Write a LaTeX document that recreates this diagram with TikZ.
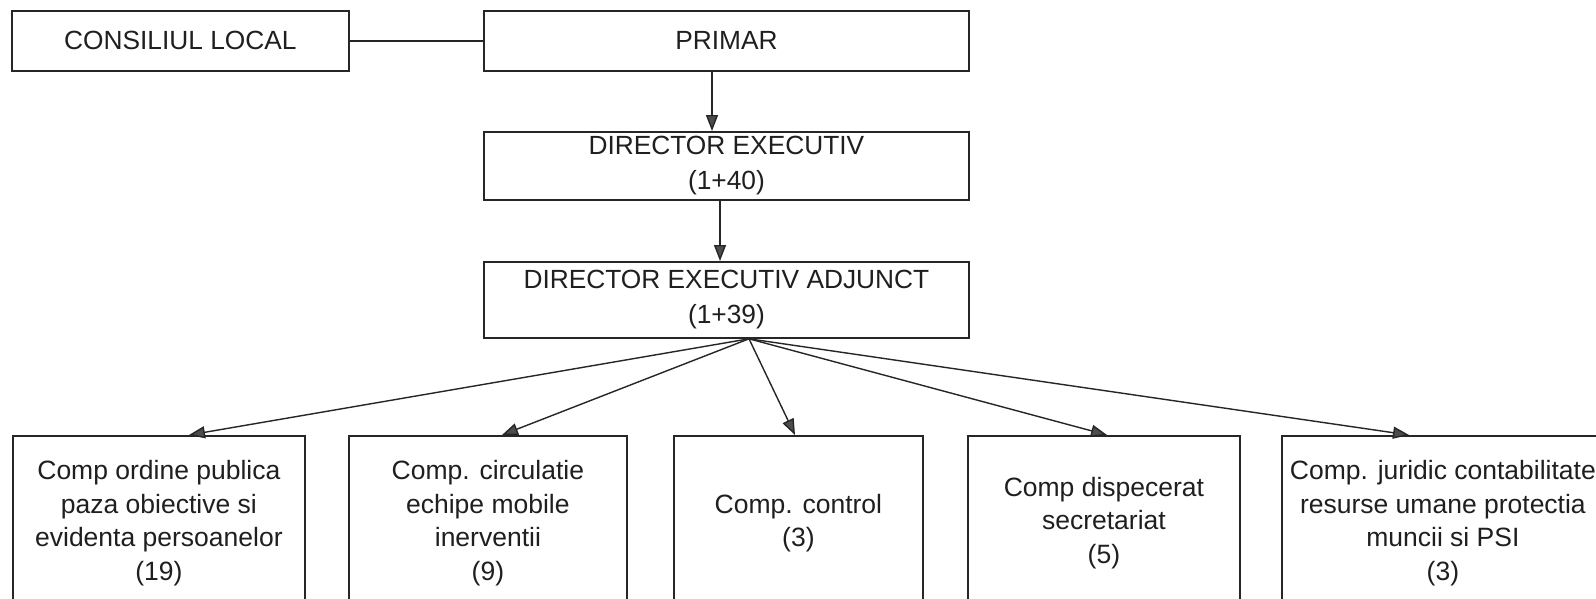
\documentclass[tikz,border=0pt]{standalone}
\usepackage{fontspec}
\setmainfont{Liberation Sans}
\usetikzlibrary{arrows.meta}
\begin{document}
\begin{tikzpicture}[x=1pt,y=-1pt,
  box/.style={draw=black!85, line width=1.8pt, rectangle, inner sep=0pt, align=center, text=black!88, anchor=north west},
  topfont/.style={font=\fontsize{26.3}{35}\selectfont},
  botfont/.style={font=\fontsize{26.5}{33.5}\selectfont},
  conn/.style={draw=black!85, line width=1.4pt},
  arr/.style={conn, -{Triangle[length=16pt,width=12pt,fill=black!70]}}]
\clip (0,0) rectangle (1596,598);
\fill[white] (0,0) rectangle (1596,598);
% top boxes
\node[box, topfont, minimum width=337pt, minimum height=60pt] (cl) at (11,10) {CONSILIUL LOCAL};
\node[box, topfont, minimum width=485pt, minimum height=60pt] (pr) at (483,10) {PRIMAR};
\node[box, topfont, minimum width=485pt, minimum height=68pt] (de) at (483,131) {DIRECTOR EXECUTIV\\(1+40)};
\node[box, topfont, minimum width=485pt, minimum height=76pt] (da) at (483,261) {DIRECTOR EXECUTIV ADJUNCT\\(1+39)};
% bottom boxes
\node[box, botfont, minimum width=292pt, minimum height=174pt] (b1) at (12,435) {Comp ordine publica\\paza obiective si\\evidenta persoanelor\\(19)};
\node[box, botfont, minimum width=278pt, minimum height=174pt] (b2) at (348,435) {Comp. circulatie\\echipe mobile\\inerventii\\(9)};
\node[box, botfont, minimum width=249pt, minimum height=174pt] (b3) at (673,435) {Comp. control\\(3)};
\node[box, botfont, minimum width=272pt, minimum height=174pt] (b4) at (967,435) {Comp dispecerat\\secretariat\\(5)};
\node[box, botfont, minimum width=322pt, minimum height=174pt] (b5) at (1281,435) {Comp. juridic contabilitate\\resurse umane protectia\\muncii si PSI\\(3)};
% helper coordinates
\coordinate (a1) at (712,100);
\coordinate (a2) at (720,230);
\coordinate (src) at (749,300);
\coordinate (t1) at (189,400);
\coordinate (t2) at (502,400);
\coordinate (t3) at (795,400);
\coordinate (t4) at (1107,400);
\coordinate (t5) at (1409,400);
% connectors
\draw[conn] (cl.east) -- (pr.west);
\draw[arr] (a1 |- pr.south) -- (a1 |- de.north);
\draw[arr] (a2 |- de.south) -- (a2 |- da.north);
\draw[arr] (src |- da.south) -- (t1 |- b1.north);
\draw[arr] (src |- da.south) -- (t2 |- b2.north);
\draw[arr] (src |- da.south) -- (t3 |- b3.north);
\draw[arr] (src |- da.south) -- (t4 |- b4.north);
\draw[arr] (src |- da.south) -- (t5 |- b5.north);
\end{tikzpicture}
\end{document}
